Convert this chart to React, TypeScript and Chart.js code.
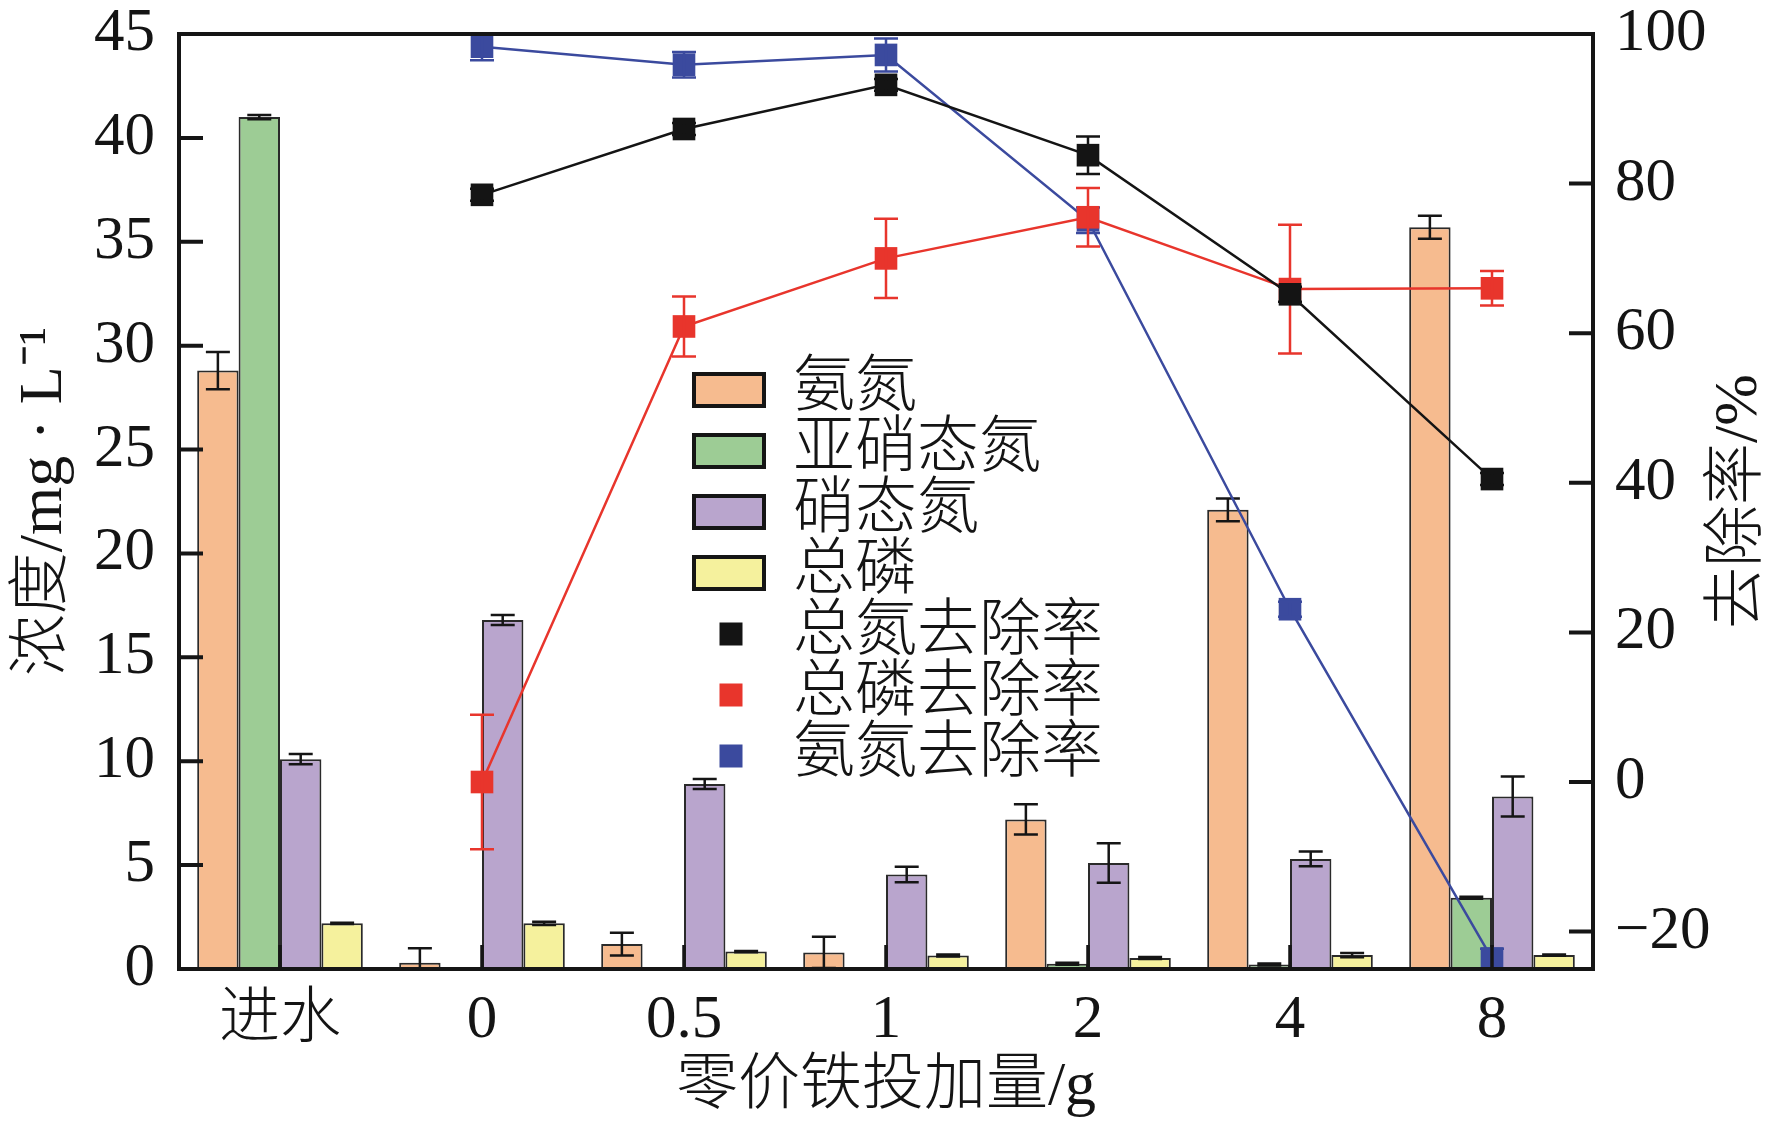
import React, { useEffect, useRef } from 'react';
import { Chart, registerables } from 'chart.js';

Chart.register(...registerables);

// ---------- data ----------
const categories = ['进水', '0', '0.5', '1', '2', '4', '8'];

const ammonia = [28.8, 0.3, 1.2, 0.8, 7.2, 22.1, 35.7];
const ammoniaErr = [0.9, 0.7, 0.55, 0.75, 0.73, 0.55, 0.55];
const nitrite = [41.0, 0.05, 0, 0.08, 0.25, 0.22, 3.43];
const nitriteErr = [0.1, 0, 0, 0, 0.05, 0.05, 0.05];
const nitrate = [10.1, 16.8, 8.9, 4.55, 5.1, 5.3, 8.3];
const nitrateErr = [0.25, 0.24, 0.24, 0.37, 0.95, 0.36, 0.96];
const totalP = [2.2, 2.2, 0.84, 0.65, 0.53, 0.67, 0.67];
const totalPErr = [0.03, 0.08, 0.03, 0.05, 0.05, 0.1, 0.03];

const tnRemoval = [null, 78.5, 87.3, 93.2, 83.8, 65.2, 40.5];
const tnRemovalErr = [null, 0.8, 0.8, 0.8, 2.5, 1, 0.8];
const tpRemoval = [null, 0, 60.9, 70.0, 75.5, 65.9, 66.0];
const tpRemovalErr = [null, 9, 4, 5.3, 3.9, 8.6, 2.3];
const nh4Removal = [null, 98.3, 95.9, 97.2, 75.1, 23.1, -23.6];
const nh4RemovalErr = [null, 1.8, 1.7, 2.2, 1.7, 1, 1.3];

const leftTicks = [0, 5, 10, 15, 20, 25, 30, 35, 40, 45];
const rightTicks = [-20, 0, 20, 40, 60, 80, 100];

const seriesLabels = ['氨氮', '亚硝态氮', '硝态氮', '总磷', '总氮去除率', '总磷去除率', '氨氮去除率'];
const xTitle = '零价铁投加量/g';
const leftTitle = '浓度/mg · L⁻¹';
const rightTitle = '去除率/%';

// ---------- styles ----------
const FONT = '"Liberation Serif", "Times New Roman", "Noto Sans CJK SC", serif';
const TXT = '#141414';
const barColors = ['#f6bb8f', '#9dcc95', '#b9a5cd', '#f5f19d'];
const lineColors = ['#141414', '#e8352c', '#3b4a9e'];

const errorBarPlugin = {
  id: 'errorBars',
  afterDatasetDraw(chart: any, args: any) {
    const ds: any = chart.data.datasets[args.index];
    const errs = ds.errors;
    if (!errs) return;
    const meta = args.meta;
    const scale = chart.scales[meta.yAxisID];
    const area = chart.chartArea;
    const ctx = chart.ctx;
    ctx.save();
    ctx.strokeStyle = ds.errorColor;
    ctx.lineWidth = 2.5;
    meta.data.forEach((el: any, i: number) => {
      const v = ds.data[i];
      const e = errs[i];
      if (v == null || !e) return;
      const x = el.x;
      const hw = 12;
      const yTop = scale.getPixelForValue(v + e);
      let yBot = scale.getPixelForValue(v - e);
      const isBar = ds.type !== 'line';
      const showBot = !(isBar && yBot > area.bottom);
      if (!showBot) yBot = area.bottom;
      ctx.beginPath();
      ctx.moveTo(x, yTop);
      ctx.lineTo(x, yBot);
      ctx.moveTo(x - hw, yTop);
      ctx.lineTo(x + hw, yTop);
      if (showBot) {
        ctx.moveTo(x - hw, yBot);
        ctx.lineTo(x + hw, yBot);
      }
      ctx.stroke();
    });
    ctx.restore();
  },
};

const framePlugin = {
  id: 'frameTicks',
  afterDatasetsDraw(chart: any) {
    const { ctx, chartArea: a, scales } = chart;
    ctx.save();
    ctx.strokeStyle = '#151515';
    ctx.lineWidth = 4;
    ctx.strokeRect(a.left, a.top, a.right - a.left, a.bottom - a.top);
    const len = 24;
    ctx.beginPath();
    scales.y.ticks.forEach((t: any) => {
      const y = scales.y.getPixelForValue(t.value);
      ctx.moveTo(a.left, y);
      ctx.lineTo(a.left + len, y);
    });
    scales.y1.ticks.forEach((t: any) => {
      const y = scales.y1.getPixelForValue(t.value);
      ctx.moveTo(a.right, y);
      ctx.lineTo(a.right - len, y);
    });
    ctx.stroke();
    ctx.lineWidth = 3.5;
    ctx.beginPath();
    scales.x.ticks.forEach((_t: any, i: number) => {
      const x = scales.x.getPixelForTick(i);
      ctx.moveTo(x, a.bottom);
      ctx.lineTo(x, a.bottom - len);
    });
    ctx.stroke();
    ctx.restore();
  },
};

const legendPlugin = {
  id: 'customLegend',
  afterDraw(chart: any, _args: any, opts: any) {
    const ctx = chart.ctx;
    ctx.save();
    ctx.font = `300 ${opts.fontSize}px ${FONT}`;
    ctx.textBaseline = 'middle';
    ctx.textAlign = 'left';
    chart.data.datasets.forEach((ds: any, i: number) => {
      const cy = opts.y + i * opts.rowGap;
      if (ds.type === 'line') {
        const s = opts.markerSize;
        ctx.fillStyle = ds.pointBackgroundColor;
        ctx.fillRect(opts.markerX - s / 2, cy - s / 2, s, s);
      } else {
        ctx.fillStyle = ds.backgroundColor;
        ctx.fillRect(opts.boxX, cy - opts.boxH / 2, opts.boxW, opts.boxH);
        ctx.strokeStyle = '#151515';
        ctx.lineWidth = 4;
        ctx.strokeRect(opts.boxX, cy - opts.boxH / 2, opts.boxW, opts.boxH);
      }
      ctx.fillStyle = TXT;
      ctx.fillText(ds.label, opts.textX, cy);
    });
    ctx.restore();
  },
};

const rightTitlePlugin = {
  id: 'rightTitle',
  afterDraw(chart: any, _args: any, opts: any) {
    const ctx = chart.ctx;
    const a = chart.chartArea;
    ctx.save();
    ctx.translate(opts.x, (a.top + a.bottom) / 2);
    ctx.rotate(-Math.PI / 2);
    ctx.font = `300 ${opts.fontSize}px ${FONT}`;
    ctx.fillStyle = TXT;
    ctx.textAlign = 'center';
    ctx.textBaseline = 'middle';
    ctx.fillText(opts.text, 0, 0);
    ctx.restore();
  },
};

export default function App() {
  const canvasRef = useRef<HTMLCanvasElement | null>(null);

  useEffect(() => {
    if (!canvasRef.current) return;
    const tickFont = { size: 61, family: FONT, lineHeight: 1, weight: 300 };
    const titleFont = { size: 62, family: FONT, weight: 300 };

    const barSet = (label: string, data: number[], errors: number[], color: string) => ({
      type: 'bar' as const,
      label,
      data,
      errors,
      errorColor: '#151515',
      backgroundColor: color,
      borderColor: '#2a2a2a',
      borderWidth: 2,
      yAxisID: 'y',
      order: 2,
      barPercentage: 1,
      categoryPercentage: 0.82,
    });
    const lineSet = (label: string, data: (number | null)[], errors: (number | null)[], color: string) => ({
      type: 'line' as const,
      label,
      data,
      errors,
      errorColor: color,
      borderColor: color,
      backgroundColor: color,
      pointBackgroundColor: color,
      pointBorderColor: color,
      pointBorderWidth: 0,
      pointStyle: 'rect',
      pointRadius: 16,
      borderWidth: 2.5,
      yAxisID: 'y1',
      order: 1,
      clip: false,
      spanGaps: false,
    });

    const noPadV = (s: any) => { s.paddingTop = 0; s.paddingBottom = 0; };

    const chart = new Chart(canvasRef.current, {
      data: {
        labels: categories,
        datasets: [
          barSet(seriesLabels[0], ammonia, ammoniaErr, barColors[0]),
          barSet(seriesLabels[1], nitrite, nitriteErr, barColors[1]),
          barSet(seriesLabels[2], nitrate, nitrateErr, barColors[2]),
          barSet(seriesLabels[3], totalP, totalPErr, barColors[3]),
          lineSet(seriesLabels[4], tnRemoval, tnRemovalErr, lineColors[0]),
          lineSet(seriesLabels[5], tpRemoval, tpRemovalErr, lineColors[1]),
          lineSet(seriesLabels[6], nh4Removal, nh4RemovalErr, lineColors[2]),
        ] as any,
      },
      options: {
        animation: false,
        responsive: false,
        devicePixelRatio: 1,
        layout: { padding: { top: 34, left: 0, right: 0, bottom: 0 } },
        plugins: {
          legend: { display: false },
          tooltip: { enabled: false },
          customLegend: {
            boxX: 694, boxW: 70, boxH: 32, y: 390, rowGap: 61,
            markerX: 731, markerSize: 23, textX: 793, fontSize: 62,
          },
          rightTitle: { x: 1740, fontSize: 62, text: rightTitle },
        } as any,
        scales: {
          x: {
            type: 'category',
            offset: true,
            grid: { display: false, drawTicks: false },
            border: { display: false },
            ticks: { font: tickFont, color: TXT, padding: 21, maxRotation: 0, autoSkip: false },
            title: { display: true, text: xTitle, font: titleFont, color: TXT, padding: { top: 0, bottom: 6 } },
            afterFit(s: any) { s.height = 162; s.paddingLeft = 0; s.paddingRight = 0; },
          },
          y: {
            type: 'linear',
            position: 'left',
            min: 0,
            max: 45,
            afterBuildTicks(s: any) { s.ticks = leftTicks.map((v) => ({ value: v })); },
            grid: { display: false, drawTicks: false },
            border: { display: false },
            ticks: { font: tickFont, color: TXT, padding: 24 },
            title: { display: true, text: leftTitle, font: titleFont, color: TXT, padding: { top: 8, bottom: 0 } },
            afterFit(s: any) { s.width = 179; noPadV(s); },
          },
          y1: {
            type: 'linear',
            position: 'right',
            min: -25,
            max: 100,
            afterBuildTicks(s: any) { s.ticks = rightTicks.map((v) => ({ value: v })); },
            grid: { display: false, drawTicks: false },
            border: { display: false },
            ticks: {
              font: tickFont,
              color: TXT,
              padding: 22,
              callback: (v: any) => (Number(v) < 0 ? '−' + Math.abs(Number(v)) : String(v)),
            },
            afterFit(s: any) { s.width = 190; noPadV(s); },
          },
        } as any,
      },
      plugins: [errorBarPlugin, framePlugin, legendPlugin, rightTitlePlugin],
    } as any);

    return () => chart.destroy();
  }, []);

  return (
    <div style={{ position: 'fixed', left: 0, top: 0, width: 1783, height: 1131, background: '#fff' }}>
      <canvas ref={canvasRef} width={1783} height={1131} style={{ display: 'block' }} />
    </div>
  );
}
